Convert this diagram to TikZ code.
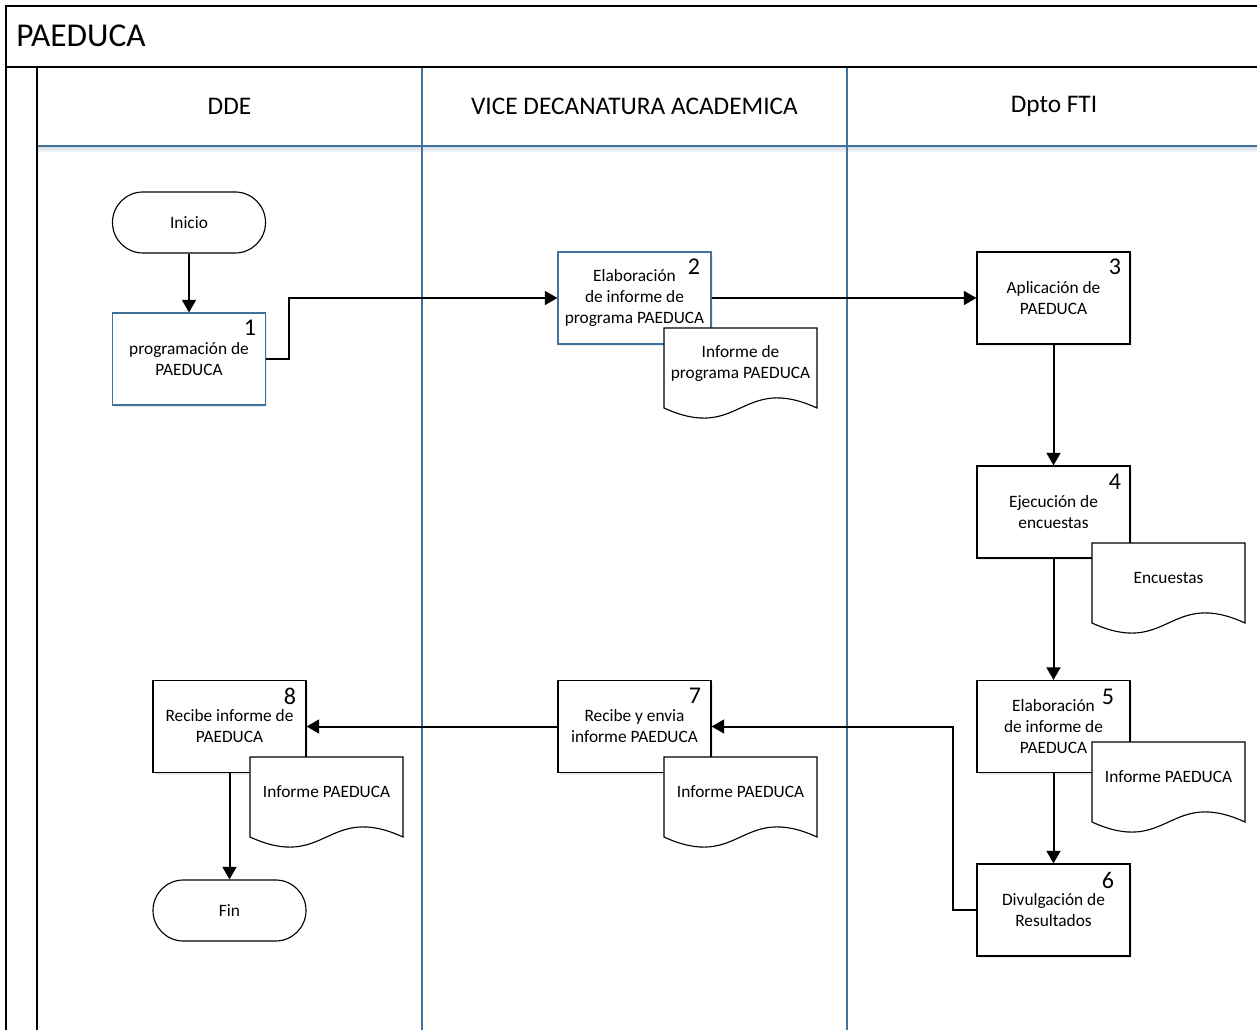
\documentclass[tikz,border=0pt]{standalone}
\usepackage{fontspec}
\setmainfont{Carlito}
\usetikzlibrary{arrows.meta,shadows}
\definecolor{laneblue}{RGB}{65,113,156}
\newcommand{\docshape}[4]{%
  \draw[line width=0.85pt, fill=white] (#2,#3) -- (#2+153,#3) -- (#2+153,#3+80)
    .. controls (#2+76.5,#3+45) and (#2+76.5,#3+115) .. (#2,#3+80) -- cycle;
  \node[doctext] (#1) at (#2+76.5,#3+35) {#4};
}
\begin{document}
\begin{tikzpicture}[x=0.75pt,y=-0.75pt,
  txt/.style={font=\fontsize{13}{15.75}\selectfont},
  box/.style={draw=black, line width=0.85pt, fill=white, minimum width=114.75pt,
    minimum height=69pt, align=center, txt, inner sep=0pt,
    drop shadow={shadow xshift=1.2pt, shadow yshift=-1.5pt, opacity=0.15}},
  bluebox/.style={box, draw=laneblue},
  term/.style={draw=black, line width=0.85pt, fill=white, minimum width=114.75pt,
    minimum height=45.75pt, rounded corners=22.8pt, txt, inner sep=0pt},
  num/.style={font=\fontsize{18}{20}\selectfont, inner sep=0pt},
  doctext/.style={align=center, txt, inner sep=0pt},
  flow/.style={line width=1.5pt, -{Triangle[length=9.5pt,width=10.5pt]}},
  frame/.style={line width=1.1pt, draw=black},
  lane/.style={line width=1.1pt, draw=laneblue},
  head/.style={font=\fontsize{19}{22}\selectfont, inner sep=0pt}
]
\useasboundingbox (0,0) rectangle (1257,1030);
\begin{scope}
\clip (0,0) rectangle (1257,1030);
\fill[white] (0,0) rectangle (1257,1030);
% header glow
\shade[top color=laneblue!25, bottom color=white] (37,146) rectangle (1300,153);
% lanes
\draw[lane] (422,67) -- (422,1100);
\draw[lane] (847,67) -- (847,1100);
\draw[lane] (37,146) -- (1300,146);
% frame
\draw[frame] (1300,6) -- (6,6) -- (6,1100);
\draw[frame] (6,67) -- (1300,67);
\draw[frame] (37,67) -- (37,1100);
\end{scope}

\node[anchor=west, inner sep=0pt, font=\fontsize{25}{30}\selectfont] (title) at (16,36) {PAEDUCA};
\node[head] (h1) at (229.5,106) {DDE};
\node[head] (h2) at (634.5,106) {VICE DECANATURA ACADEMICA};
\node[head] (h3) at (1054,106) {Dpto FTI};

% shapes
\node[term] (start) at (189,222.5) {Inicio};
\node[bluebox] (b1) at (189,359) {programación de\\PAEDUCA};
\node[bluebox] (b2) at (634.5,298) {Elaboración\\de informe de\\programa PAEDUCA};
\node[box] (b3) at (1053.5,298) {Aplicación de\\PAEDUCA};
\node[box] (b4) at (1053.5,512) {Ejecución de\\encuestas};
\node[box] (b5) at (1053.5,726.5) {Elaboración\\de informe de\\PAEDUCA};
\node[box] (b6) at (1053.5,910) {Divulgación de\\Resultados};
\node[box] (b7) at (634.5,726.5) {Recibe y envia\\informe PAEDUCA};
\node[box] (b8) at (229.5,726.5) {Recibe informe de\\PAEDUCA};
\node[term] (fin) at (229.5,910.5) {Fin};

% numbers
\node[num] (n1) at (250,328) {1};
\node[num] (n2) at (694,267) {2};
\node[num] (n3) at (1115,267) {3};
\node[num] (n4) at (1115,482) {4};
\node[num] (n5) at (1108,697) {5};
\node[num] (n6) at (1108,880) {6};
\node[num] (n7) at (695,696) {7};
\node[num] (n8) at (290,696) {8};

% documents
\docshape{d2}{664}{328}{Informe de\\programa PAEDUCA}
\docshape{d4}{1092}{543}{Encuestas}
\docshape{d5}{1092}{742}{Informe PAEDUCA}
\docshape{d7}{664}{757}{Informe PAEDUCA}
\docshape{d8}{250}{757}{Informe PAEDUCA}

% connectors
\draw[flow] (start) -- (b1);
\draw[flow] (b1.east) -- ++(23,0) |- (b2.west);
\draw[flow] (b2) -- (b3);
\draw[flow] (b3) -- (b4);
\draw[flow] (b4) -- (b5);
\draw[flow] (b5) -- (b6);
\draw[flow] (b6.west) -- ++(-23,0) |- (b7.east);
\draw[flow] (b7) -- (b8);
\draw[flow] (b8) -- (fin);
\end{tikzpicture}
\end{document}
